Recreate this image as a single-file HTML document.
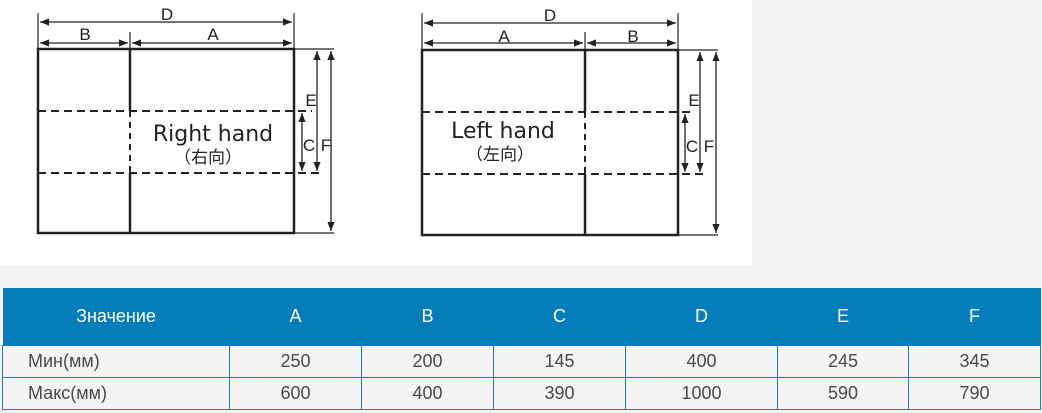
<!DOCTYPE html>
<html><head><meta charset="utf-8"><style>
body{margin:0;width:1042px;height:413px;background:#f4f4f4;overflow:hidden;position:relative;font-family:"Liberation Sans",sans-serif}
svg{position:absolute;left:0;top:0}
table{position:absolute;left:2px;top:288px;width:1038px;border-collapse:collapse;table-layout:fixed}
th{background:#057dbb;color:#fff;font-weight:normal;font-size:18px;height:57px;padding:0}
td{border:1px solid #1a7fc0;font-size:18px;color:#4a4a4a;height:31px;padding:0;text-align:center}
td:first-child{text-align:left;padding-left:25px}
</style></head><body>
<svg width="1042" height="270" xmlns="http://www.w3.org/2000/svg">
<defs><marker id="a" viewBox="0 0 10 10" refX="10" refY="5" markerWidth="7" markerHeight="7" orient="auto-start-reverse"><path d="M0,1 L10,5 L0,9 Z" fill="#222"/></marker></defs>
<rect x="0" y="0" width="752" height="265" fill="#fff"/>
<g stroke="#222" fill="none">
<rect x="38" y="49" width="256" height="184" stroke-width="2.5"/>
<line x1="130" y1="49" x2="130" y2="111" stroke-width="2.5"/>
<line x1="130" y1="173" x2="130" y2="233" stroke-width="2.5"/>
<line x1="130" y1="111" x2="130" y2="173" stroke-width="2" stroke-dasharray="6,5"/>
<line x1="38" y1="111" x2="312" y2="111" stroke-width="2" stroke-dasharray="8,5"/>
<line x1="38" y1="173" x2="324" y2="173" stroke-width="2" stroke-dasharray="8,5"/>
<line x1="38" y1="13" x2="38" y2="49" stroke-width="1.2"/>
<line x1="294" y1="13" x2="294" y2="49" stroke-width="1.2"/>
<line x1="130" y1="32" x2="130" y2="49" stroke-width="1.2"/>
<line x1="294" y1="49" x2="334" y2="49" stroke-width="1.2"/>
<line x1="294" y1="233" x2="334" y2="233" stroke-width="1.2"/>
<line x1="40" y1="22" x2="292" y2="22" stroke-width="1.3" marker-start="url(#a)" marker-end="url(#a)"/>
<line x1="40" y1="43" x2="128" y2="43" stroke-width="1.3" marker-start="url(#a)" marker-end="url(#a)"/>
<line x1="132" y1="43" x2="292" y2="43" stroke-width="1.3" marker-start="url(#a)" marker-end="url(#a)"/>
<line x1="317" y1="51" x2="317" y2="171" stroke-width="1.3" marker-start="url(#a)" marker-end="url(#a)"/>
<line x1="302" y1="113" x2="302" y2="171" stroke-width="1.3" marker-start="url(#a)" marker-end="url(#a)"/>
<line x1="331" y1="51" x2="331" y2="231" stroke-width="1.3" marker-start="url(#a)" marker-end="url(#a)"/>
<rect x="422" y="50" width="256" height="185" stroke-width="2.5"/>
<line x1="585" y1="50" x2="585" y2="112" stroke-width="2.5"/>
<line x1="585" y1="174" x2="585" y2="235" stroke-width="2.5"/>
<line x1="585" y1="112" x2="585" y2="174" stroke-width="2" stroke-dasharray="6,5"/>
<line x1="422" y1="112" x2="694" y2="112" stroke-width="2" stroke-dasharray="8,5"/>
<line x1="422" y1="174" x2="706" y2="174" stroke-width="2" stroke-dasharray="8,5"/>
<line x1="422" y1="13" x2="422" y2="50" stroke-width="1.2"/>
<line x1="678" y1="13" x2="678" y2="50" stroke-width="1.2"/>
<line x1="585" y1="32" x2="585" y2="50" stroke-width="1.2"/>
<line x1="678" y1="50" x2="718" y2="50" stroke-width="1.2"/>
<line x1="678" y1="235" x2="718" y2="235" stroke-width="1.2"/>
<line x1="424" y1="23" x2="676" y2="23" stroke-width="1.3" marker-start="url(#a)" marker-end="url(#a)"/>
<line x1="424" y1="43" x2="583" y2="43" stroke-width="1.3" marker-start="url(#a)" marker-end="url(#a)"/>
<line x1="587" y1="43" x2="676" y2="43" stroke-width="1.3" marker-start="url(#a)" marker-end="url(#a)"/>
<line x1="700" y1="52" x2="700" y2="172" stroke-width="1.3" marker-start="url(#a)" marker-end="url(#a)"/>
<line x1="685" y1="114" x2="685" y2="172" stroke-width="1.3" marker-start="url(#a)" marker-end="url(#a)"/>
<line x1="716" y1="52" x2="716" y2="233" stroke-width="1.3" marker-start="url(#a)" marker-end="url(#a)"/>
</g>
<g fill="#222" font-family="Liberation Sans, sans-serif" font-size="17" text-anchor="middle">
<text x="167" y="20">D</text><text x="85" y="40">B</text><text x="213" y="40">A</text>
<text x="311" y="106">E</text><text x="309" y="151">C</text><text x="326" y="151">F</text>
<text x="550" y="21">D</text><text x="504" y="42">A</text><text x="633" y="42">B</text>
<text x="694" y="106">E</text><text x="692" y="152">C</text><text x="709" y="152">F</text>
</g>
<g fill="#222" font-family="DejaVu Sans, sans-serif" text-anchor="middle">
<text x="213" y="141" font-size="22">Right hand</text>
<text x="208" y="163" font-size="17" font-family="Noto Sans CJK SC, sans-serif">（右向）</text>
<text x="503" y="138" font-size="22">Left hand</text>
<text x="500" y="160" font-size="17" font-family="Noto Sans CJK SC, sans-serif">（左向）</text>
</g>
</svg>
<table>
<colgroup><col style="width:227px"><col style="width:132px"><col style="width:132px"><col style="width:132px"><col style="width:152px"><col style="width:131px"><col style="width:132px"></colgroup>
<tr><th>Значение</th><th>A</th><th>B</th><th>C</th><th>D</th><th>E</th><th>F</th></tr>
<tr><td>Мин(мм)</td><td>250</td><td>200</td><td>145</td><td>400</td><td>245</td><td>345</td></tr>
<tr><td>Макс(мм)</td><td>600</td><td>400</td><td>390</td><td>1000</td><td>590</td><td>790</td></tr>
</table>
</body></html>
